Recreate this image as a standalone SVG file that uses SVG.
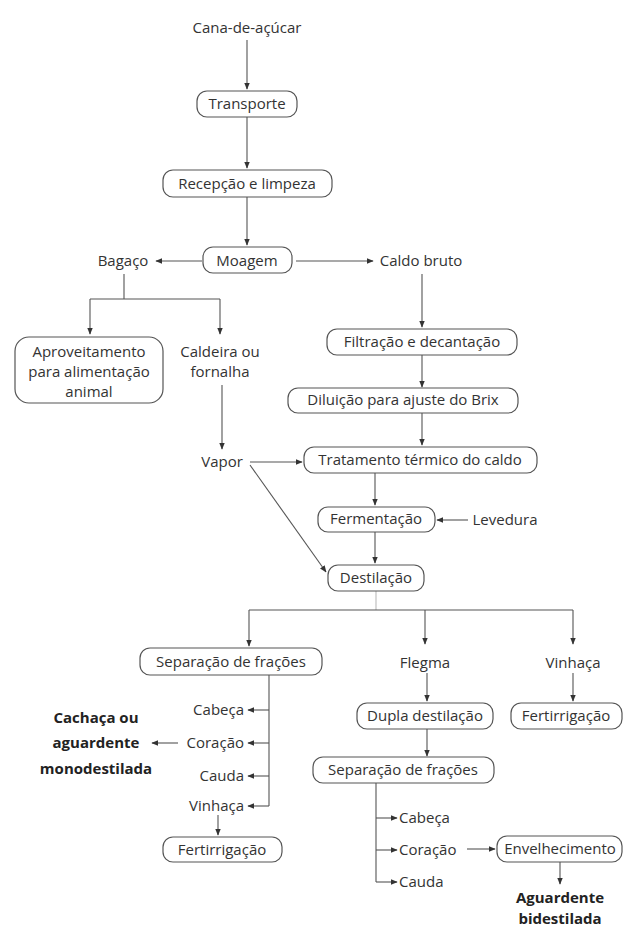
<svg xmlns="http://www.w3.org/2000/svg" width="624" height="929" viewBox="0 0 624 929">
<style>
text{font-family:"Open Sans","Liberation Sans",sans-serif;font-size:15px;fill:#333;text-anchor:middle}
.b{font-weight:bold;font-size:15px;fill:#222}
.e{text-anchor:end}
.s{text-anchor:start}
rect{fill:#fff;stroke:#555;stroke-width:1.2}
.c line,.c polyline{stroke:#555;stroke-width:1.1;fill:none}
.c .a{marker-end:url(#ah)}
.c .lt{stroke:#bbb}
</style>
<defs>
<marker id="ah" viewBox="0 0 10 10" refX="9" refY="5" markerWidth="7" markerHeight="7" markerUnits="userSpaceOnUse" orient="auto">
<path d="M0,1 L10,5 L0,9 z" fill="#333"/>
</marker>
</defs>
<rect width="624" height="929" style="stroke:none;fill:#fff"/>
<g class="c" id="connectors">
<line class="a" x1="247" y1="40" x2="247" y2="89"/>
<line class="a" x1="247" y1="117" x2="247" y2="168"/>
<line class="a" x1="247" y1="197" x2="247" y2="245"/>
<line class="a" x1="202" y1="261" x2="156" y2="261"/>
<line class="a" x1="296" y1="261" x2="373" y2="261"/>
<line x1="124" y1="274" x2="124" y2="299"/>
<line x1="90" y1="299" x2="220" y2="299"/>
<line class="a" x1="90" y1="299" x2="90" y2="334"/>
<line class="a" x1="220" y1="299" x2="220" y2="334"/>
<line class="a" x1="222" y1="385" x2="222" y2="449"/>
<line class="a" x1="250" y1="462" x2="302" y2="462"/>
<line class="a" x1="250" y1="465" x2="326" y2="572"/>
<line class="a" x1="422" y1="274" x2="422" y2="327"/>
<line class="a" x1="422" y1="355" x2="422" y2="387"/>
<line class="a" x1="422" y1="413" x2="422" y2="445"/>
<line class="a" x1="375" y1="473" x2="375" y2="505"/>
<line class="a" x1="468" y1="520" x2="437" y2="520"/>
<line class="a" x1="375" y1="532" x2="375" y2="563"/>
<line class="lt" x1="376" y1="591" x2="376" y2="610"/>
<line x1="249" y1="610" x2="573" y2="610"/>
<line class="a" x1="249" y1="610" x2="249" y2="646"/>
<line class="a" x1="425" y1="610" x2="425" y2="644"/>
<line class="a" x1="573" y1="610" x2="573" y2="644"/>
<line x1="269" y1="675" x2="269" y2="806"/>
<line class="a" x1="269" y1="710" x2="248" y2="710"/>
<line class="a" x1="269" y1="743" x2="248" y2="743"/>
<line class="a" x1="269" y1="776" x2="248" y2="776"/>
<line class="a" x1="269" y1="806" x2="248" y2="806"/>
<line class="a" x1="178" y1="743" x2="152" y2="743"/>
<line class="a" x1="218" y1="815" x2="218" y2="835"/>
<line class="a" x1="427" y1="673" x2="427" y2="701"/>
<line class="a" x1="573" y1="673" x2="573" y2="701"/>
<line class="a" x1="427" y1="729" x2="427" y2="756"/>
<line x1="376" y1="783" x2="376" y2="882"/>
<line class="a" x1="376" y1="818" x2="397" y2="818"/>
<line class="a" x1="376" y1="850" x2="397" y2="850"/>
<line class="a" x1="376" y1="882" x2="397" y2="882"/>
<line class="a" x1="467" y1="849" x2="495" y2="849"/>
<line class="a" x1="560" y1="862" x2="560" y2="884"/>
</g>
<g id="cana"><text x="247" y="33">Cana-de-açúcar</text></g>
<g id="transporte"><rect x="197" y="91" width="100" height="26" rx="10"/><text x="247" y="109">Transporte</text></g>
<g id="recepcao"><rect x="163" y="170" width="169" height="27" rx="10"/><text x="247" y="189">Recepção e limpeza</text></g>
<g id="moagem"><rect x="203" y="247" width="89" height="26" rx="10"/><text x="247" y="266">Moagem</text></g>
<g id="bagaco"><text x="123" y="266">Bagaço</text></g>
<g id="caldobruto"><text x="421" y="266">Caldo bruto</text></g>
<g id="aproveitamento"><rect x="15" y="337" width="148" height="66" rx="14"/><text x="89" y="357">Aproveitamento</text><text x="89" y="377">para alimentação</text><text x="89" y="397">animal</text></g>
<g id="caldeira"><text x="220" y="357">Caldeira ou</text><text x="220" y="377">fornalha</text></g>
<g id="vapor"><text x="222" y="467">Vapor</text></g>
<g id="filtracao"><rect x="327" y="329" width="190" height="26" rx="10"/><text x="422" y="347">Filtração e decantação</text></g>
<g id="diluicao"><rect x="288" y="388" width="230" height="25" rx="10"/><text x="403" y="405">Diluição para ajuste do Brix</text></g>
<g id="tratamento"><rect x="304" y="447" width="233" height="26" rx="10"/><text x="420" y="465">Tratamento térmico do caldo</text></g>
<g id="fermentacao"><rect x="318" y="507" width="117" height="25" rx="10"/><text x="376" y="524">Fermentação</text></g>
<g id="levedura"><text x="505" y="525">Levedura</text></g>
<g id="destilacao"><rect x="328" y="565" width="96" height="26" rx="10"/><text x="376" y="583">Destilação</text></g>
<g id="separacao1"><rect x="140" y="648" width="182" height="27" rx="10"/><text x="231" y="667">Separação de frações</text></g>
<g id="flegma"><text x="425" y="668">Flegma</text></g>
<g id="vinhaca1"><text x="573" y="668">Vinhaça</text></g>
<g id="cabeca1"><text class="e" x="244" y="715">Cabeça</text></g>
<g id="coracao1"><text class="e" x="244" y="748">Coração</text></g>
<g id="cauda1"><text class="e" x="244" y="781">Cauda</text></g>
<g id="vinhaca2"><text class="e" x="244" y="811">Vinhaça</text></g>
<g id="cachaca"><text class="b" x="96" y="723">Cachaça ou</text><text class="b" x="96" y="748">aguardente</text><text class="b" x="96" y="774">monodestilada</text></g>
<g id="fertirrigacao1"><rect x="163" y="837" width="119" height="25" rx="10"/><text x="222" y="855">Fertirrigação</text></g>
<g id="dupla"><rect x="357" y="703" width="136" height="26" rx="10"/><text x="425" y="721">Dupla destilação</text></g>
<g id="fertirrigacao2"><rect x="511" y="703" width="111" height="26" rx="10"/><text x="566" y="721">Fertirrigação</text></g>
<g id="separacao2"><rect x="313" y="757" width="181" height="26" rx="10"/><text x="403" y="775">Separação de frações</text></g>
<g id="cabeca2"><text class="s" x="399" y="823">Cabeça</text></g>
<g id="coracao2"><text class="s" x="399" y="855">Coração</text></g>
<g id="cauda2"><text class="s" x="399" y="887">Cauda</text></g>
<g id="envelhecimento"><rect x="497" y="836" width="125" height="26" rx="10"/><text x="560" y="854">Envelhecimento</text></g>
<g id="aguardente"><text class="b" x="560" y="903">Aguardente</text><text class="b" x="560" y="924">bidestilada</text></g>
</svg>
